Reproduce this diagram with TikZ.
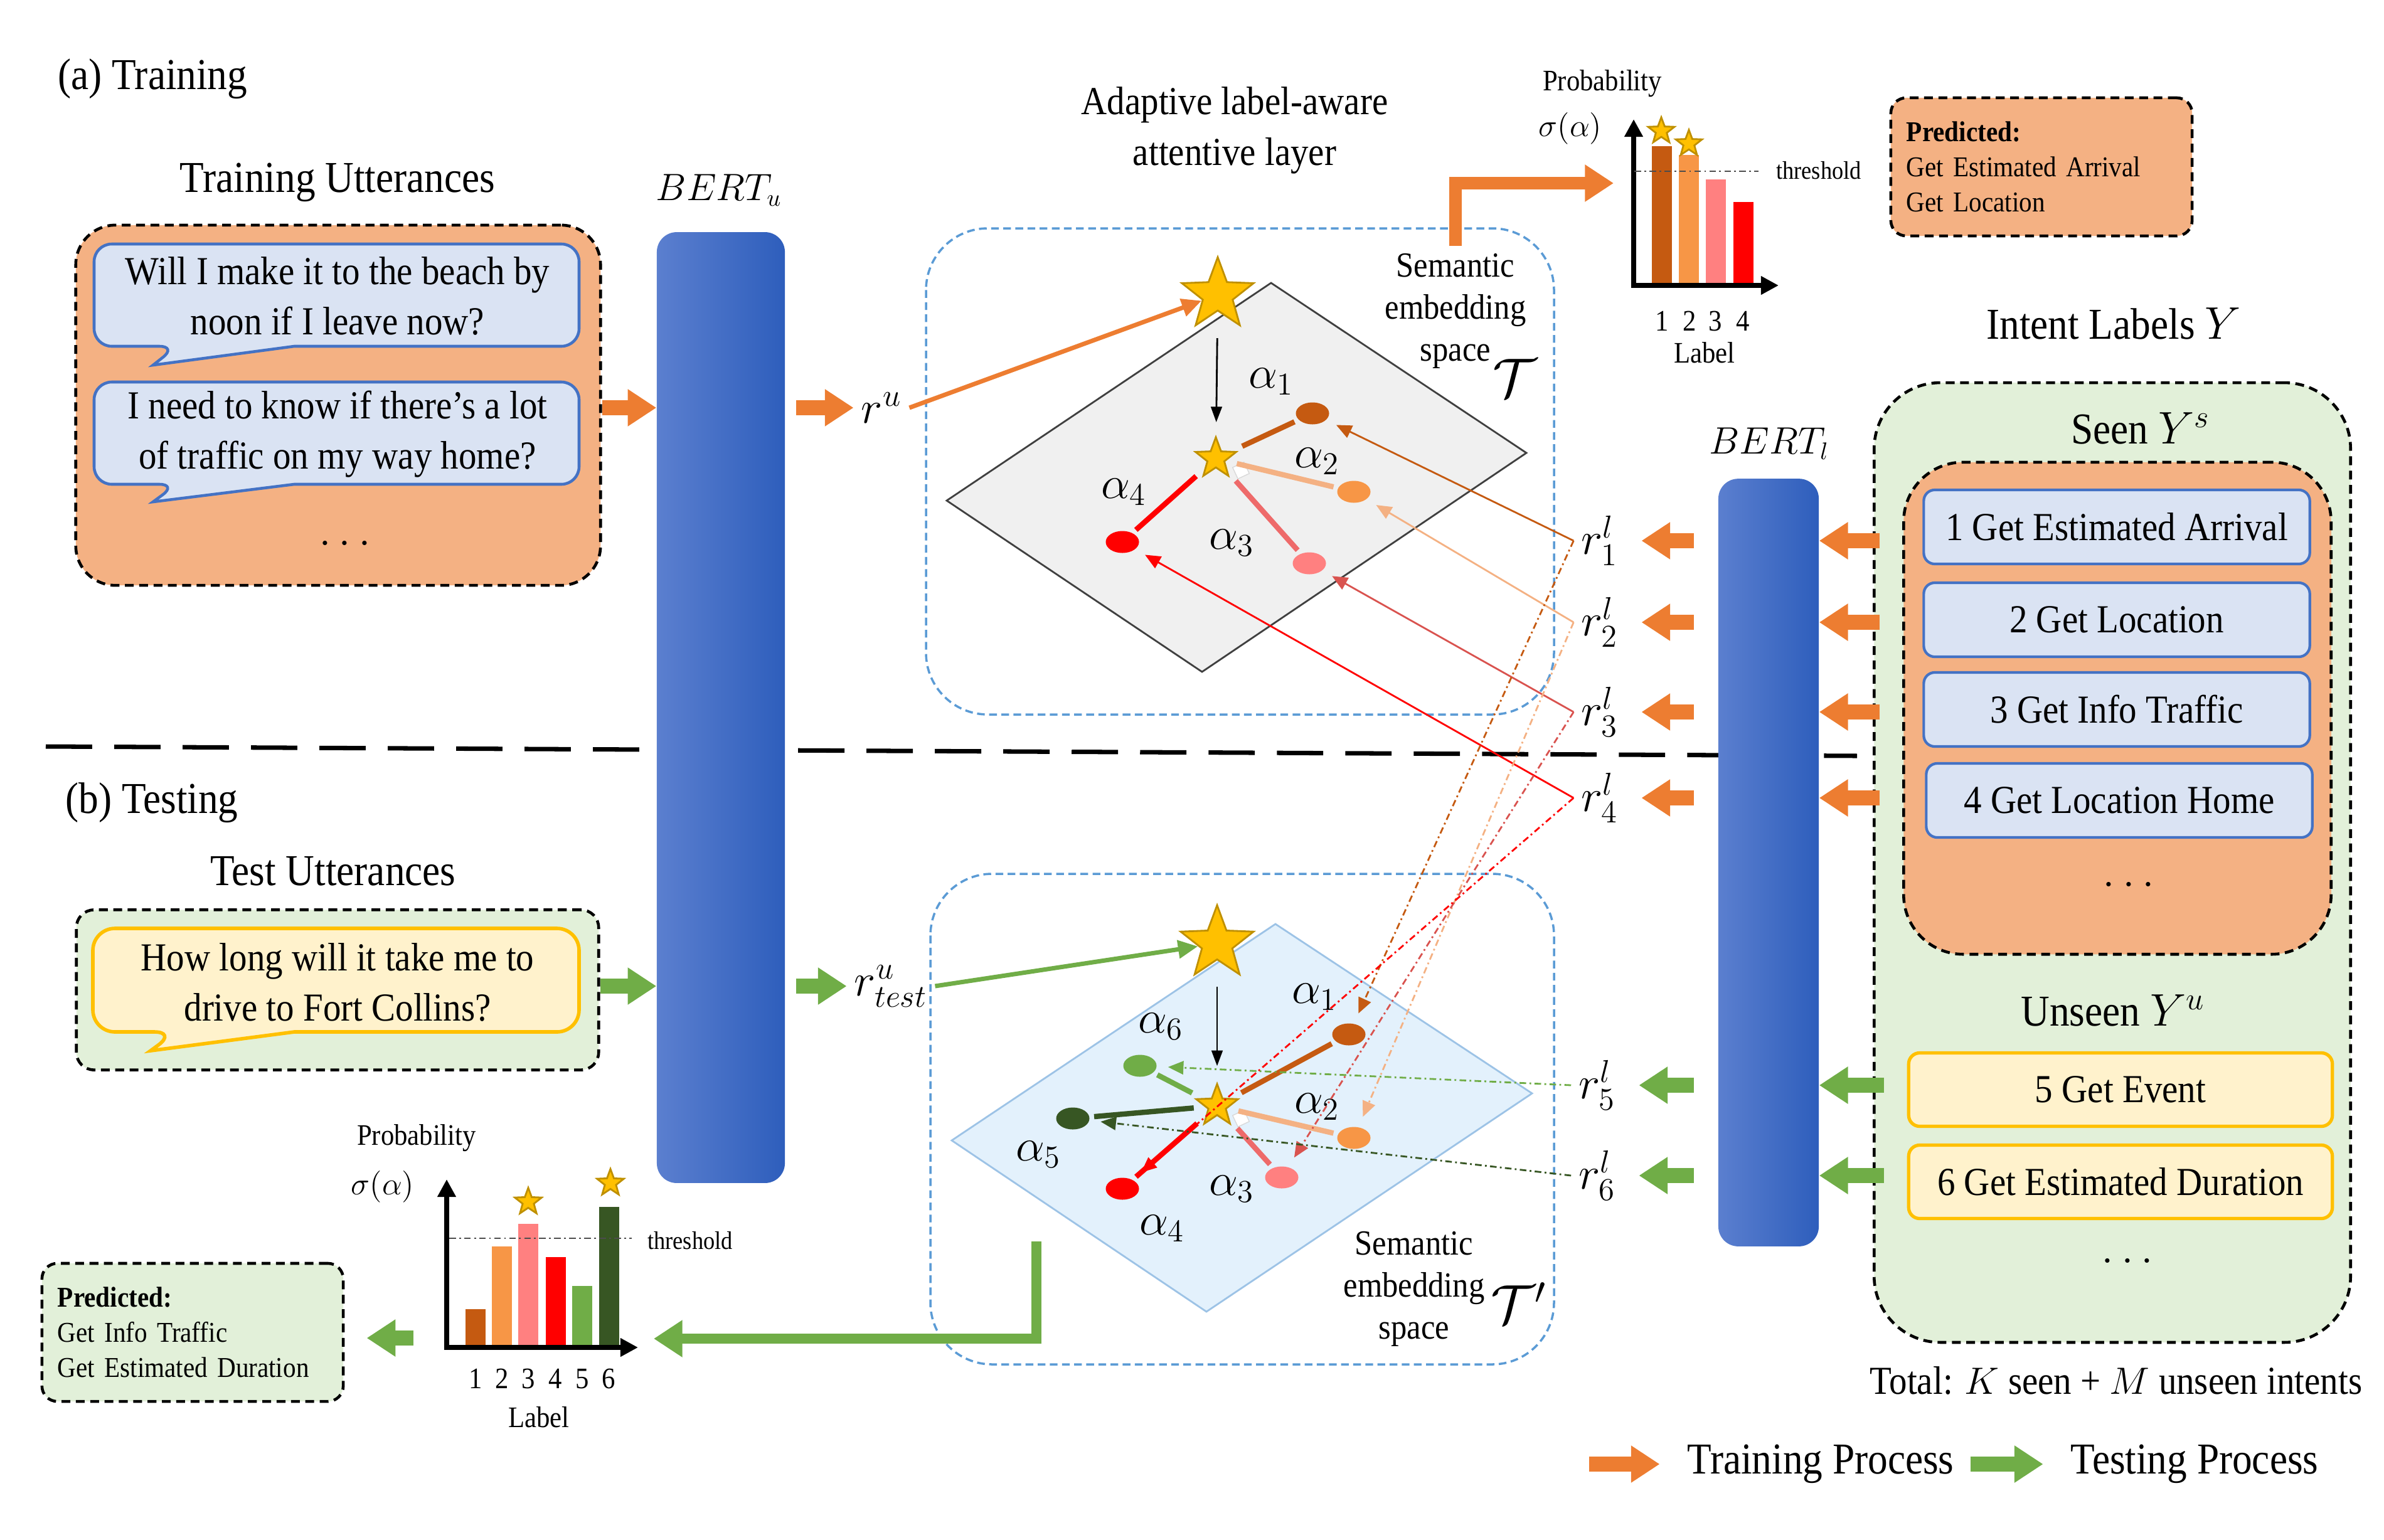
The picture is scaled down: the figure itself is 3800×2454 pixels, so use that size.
\documentclass[tikz,border=0pt]{standalone}
\usepackage{fontspec}
\setmainfont{Liberation Serif}[FakeStretch=0.9]
\usetikzlibrary{arrows.meta,shapes.geometric}
\definecolor{trainorange}{HTML}{ED7D31}
\definecolor{testgreen}{HTML}{70AD47}
\definecolor{boxorange}{HTML}{F4B183}
\definecolor{boxgreen}{HTML}{E2F0D9}
\definecolor{bubblue}{HTML}{DAE3F3}
\definecolor{bubedge}{HTML}{4472C4}
\definecolor{yellowfill}{HTML}{FFF2CC}
\definecolor{yellowedge}{HTML}{FFC000}
\definecolor{spaceblue}{HTML}{5B9BD5}
\definecolor{planegray}{HTML}{F0F0F0}
\definecolor{planeblue}{HTML}{E3F1FC}
\definecolor{planeedge}{HTML}{9DC3E6}
\definecolor{bertlight}{HTML}{5B7FCF}
\definecolor{bertdark}{HTML}{2E5EBC}
\definecolor{gold}{HTML}{FFC000}
\definecolor{golddark}{HTML}{BF9000}
\definecolor{aone}{HTML}{C55A11}
\definecolor{atwo}{HTML}{F79646}
\definecolor{athree}{HTML}{FF8080}
\definecolor{afour}{HTML}{FF0000}
\definecolor{afive}{HTML}{375623}
\definecolor{asix}{HTML}{70AD47}
\definecolor{atwoline}{HTML}{F4B183}
\definecolor{athreeline}{HTML}{EE6A6A}
\definecolor{rthree}{HTML}{D9534F}
\tikzset{
  ttl/.style={font=\fontsize{20}{24}\selectfont},
  txt/.style={font=\fontsize{18}{23}\selectfont},
  semtxt/.style={font=\fontsize{16}{19}\selectfont, align=center},
  chtxt/.style={font=\fontsize{13.5}{16}\selectfont},
  thtxt/.style={font=\fontsize{11.5}{14}\selectfont},
  trarrow/.style={draw=trainorange, line width=7pt, -{Triangle[length=13pt,width=16pt]}},
  tsarrow/.style={draw=testgreen, line width=7pt, -{Triangle[length=13pt,width=16pt]}},
  ptr/.style={draw=#1, line width=2pt, -{Triangle[length=9pt,width=8pt]}},
  dashbox/.style={draw=black, line width=1.3pt, dash pattern=on 4pt off 2.5pt},
  spacebox/.style={draw=spaceblue, line width=1pt, dash pattern=on 3.5pt off 2pt, rounded corners=28pt},
  bert/.style={rounded corners=9pt, left color=bertlight, right color=bertdark},
  labbox/.style={txt, draw=bubedge, fill=bubblue, line width=1.2pt, rounded corners=5pt, minimum width=6.15cm, minimum height=1.18cm},
  unbox/.style={labbox, draw=yellowedge, fill=yellowfill, line width=1.5pt, minimum width=6.75cm, minimum height=1.17cm},
  bubble/.style={line width=1.3pt, draw=bubedge, fill=bubblue},
  ystar/.style={star, star points=5, star point ratio=2.4, fill=gold, draw=golddark, line width=0.8pt, inner sep=0pt},
  adot/.style={ellipse, minimum width=0.53cm, minimum height=0.35cm, inner sep=0pt, fill=#1},
  att/.style={draw=#1, line width=2.4pt, shorten <=5pt, shorten >=2pt},
  rlink/.style={draw=#1, line width=0.8pt, -{Triangle[length=7pt,width=6pt]}, shorten >=5pt},
  rdash/.style={rlink=#1, dash pattern=on 3pt off 1.5pt on 0.8pt off 1.5pt},
  thresh/.style={draw=black!70, line width=0.7pt, dash pattern=on 3pt off 1.5pt on 0.8pt off 1.5pt},
  chartaxis/.style={draw=black, line width=2.5pt, {Triangle[length=8pt,width=8pt]}-{Triangle[length=8pt,width=8pt]}},
  pred/.style={dashbox, rounded corners=7pt, font=\fontsize{13}{16}\selectfont, align=left, text width=4.3cm, minimum width=4.8cm, minimum height=2.2cm},
  glint/.style={draw=black!15, fill=white, rotate=25, minimum size=0.2cm, inner sep=0pt},
}
\begin{document}
\begin{tikzpicture}[x=0.01cm,y=-0.01cm]
\useasboundingbox (0,0) rectangle (3800,2454);

\draw[line width=2pt, dash pattern=on 21pt off 10pt] (73,1190) -- (2960,1205);

\node[ttl, anchor=west] (trainlab) at (80,126) {(a) Training};
\node[ttl, anchor=west] (testlab) at (92,1280) {(b) Testing};
\node[ttl] (trainhead) at (538,291) {Training Utterances};
\node[ttl] (testhead) at (531,1389) {Test Utterances};
\node[txt, align=center] (attn) at (1968,208) {Adaptive label-aware\\attentive layer};

\node[dashbox, fill=boxorange, rounded corners=18pt, minimum width=8.36cm, minimum height=5.74cm] (trainbox) at (539,646) {};
\draw[bubble] (469,552) [rounded corners=8pt] -- (923,552) -- (923,389) -- (150,389) -- (150,552) -- (282,552) [sharp corners] -- (244,582) -- cycle;
\node[txt, align=center] (utt1) at (538,472) {Will I make it to the beach by\\noon if I leave now?};
\draw[bubble] (469,772) [rounded corners=8pt] -- (923,772) -- (923,609) -- (150,609) -- (150,772) -- (282,772) [sharp corners] -- (244,800) -- cycle;
\node[txt, align=center] (utt2) at (538,692) {I need to know if there's a lot\\of traffic on my way home?};
\node[ttl] (tdots) at (550,866) {$\ldots$};

\node[dashbox, fill=boxgreen, rounded corners=8pt, minimum width=8.32cm, minimum height=2.55cm] (testbox) at (538,1578) {};
\draw[bubble, draw=yellowedge, fill=yellowfill, line width=1.6pt] (469,1645) [rounded corners=10pt] -- (923,1645) -- (923,1480) -- (148,1480) -- (148,1645) -- (281,1645) [sharp corners] -- (240,1675) -- cycle;
\node[txt, align=center] (utt3) at (538,1566) {How long will it take me to\\drive to Fort Collins?};

\draw[spacebox] (1476,364) rectangle (2477,1139);
\draw[spacebox] (1483,1393) rectangle (2477,2175);
\draw[fill=planegray, draw=black!75, line width=0.8pt] (2026,451) -- (2433,722) -- (1916,1071) -- (1509,798) -- cycle;
\draw[fill=planeblue, draw=planeedge, line width=0.8pt] (2033,1473) -- (2442,1743) -- (1923,2091) -- (1517,1818) -- cycle;

\node[bert, minimum width=2.04cm, minimum height=15.15cm] (bertu) at (1149,1128) {};
\node[bert, minimum width=1.6cm, minimum height=12.23cm] (bertl) at (2819,1375) {};
\node[font=\fontsize{16}{18}\selectfont] (bertulab) at (1146,303) {$BERT_u$};
\node[font=\fontsize{16}{18}\selectfont] (bertllab) at (2820,707) {$BERT_l$};

\node[ttl] (ru) at (1405,650) {$r^u$};
\node[ttl] (rt) at (1420,1572) {$r^u_{test}$};
\node[ttl] (r1) at (2550,862) {$r^l_1$};
\node[ttl] (r2) at (2550,992) {$r^l_2$};
\node[ttl] (r3) at (2550,1135) {$r^l_3$};
\node[ttl] (r4) at (2550,1272) {$r^l_4$};
\node[ttl] (r5) at (2546,1730) {$r^l_5$};
\node[ttl] (r6) at (2546,1874) {$r^l_6$};

\node[ystar, minimum size=1.2cm] (s1) at (1941,470) {};
\node[ystar, minimum size=0.68cm] (c1) at (1938,731) {};
\node[glint] (w1) at (1978,750) {};
\node[adot=aone] (t1) at (2092,659) {};
\node[adot=atwo] (t2) at (2158,784) {};
\node[adot=athree] (t3) at (2087,898) {};
\node[adot=afour] (t4) at (1789,864) {};
\draw[att=aone] (c1) -- (t1);
\draw[att=atwoline] (c1) -- (t2);
\draw[att=athreeline] (c1) -- (t3);
\draw[att=afour] (c1) -- (t4);
\node[ttl] (a1) at (2026,608) {$\alpha_1$};
\node[ttl] (a2) at (2099,735) {$\alpha_2$};
\node[ttl] (a3) at (1963,865) {$\alpha_3$};
\node[ttl] (a4) at (1791,784) {$\alpha_4$};

\node[ystar, minimum size=1.22cm] (s2) at (1940,1504) {};
\node[ystar, minimum size=0.7cm] (c2) at (1940,1763) {};
\node[glint] (w2) at (1978,1783) {};
\node[adot=aone] (b1) at (2150,1649) {};
\node[adot=atwo] (b2) at (2158,1814) {};
\node[adot=athree] (b3) at (2043,1877) {};
\node[adot=afour] (b4) at (1789,1895) {};
\node[adot=afive] (b5) at (1710,1783) {};
\node[adot=asix] (b6) at (1817,1699) {};
\draw[att=aone] (c2) -- (b1);
\draw[att=atwoline] (c2) -- (b2);
\draw[att=athreeline] (c2) -- (b3);
\draw[att=afour] (c2) -- (b4);
\draw[att=afive] (c2) -- (b5);
\draw[att=asix] (c2) -- (b6);
\node[ttl] (ba1) at (2095,1589) {$\alpha_1$};
\node[ttl] (ba2) at (2099,1764) {$\alpha_2$};
\node[ttl] (ba3) at (1963,1895) {$\alpha_3$};
\node[ttl] (ba4) at (1852,1958) {$\alpha_4$};
\node[ttl] (ba5) at (1655,1840) {$\alpha_5$};
\node[ttl] (ba6) at (1850,1636) {$\alpha_6$};

\draw[rlink=aone] (r1.west) -- (t1);
\draw[rlink=atwoline] (r2.west) -- (t2);
\draw[rlink=rthree] (r3.west) -- (t3);
\draw[rlink=afour] (r4.west) -- (t4);
\draw[rdash=aone] (r1.west) -- (b1);
\draw[rdash=atwoline] (r2.west) -- (b2);
\draw[rdash=rthree] (r3.west) -- (b3);
\draw[rdash=afour] (r4.west) -- (b4);
\draw[rdash=asix] (r5.west) -- (b6);
\draw[rdash=afive] (r6.west) -- (b5);

\draw[black, line width=0.8pt, -{Triangle[length=7pt,width=5pt]}, shorten <=12pt, shorten >=6pt] (s1) -- (c1);
\draw[black, line width=0.8pt, -{Triangle[length=7pt,width=5pt]}, shorten <=12pt, shorten >=7pt] (s2) -- (c2);

\node[semtxt] (sem1) at (2320,496) {Semantic\\embedding\\space};
\node[font=\fontsize{24}{24}\selectfont] (tau1) at (2414,603) {$\mathcal{T}$};
\node[semtxt] (sem2) at (2254,2055) {Semantic\\embedding\\space};
\node[font=\fontsize{24}{24}\selectfont] (tau2) at (2421,2077) {$\mathcal{T}'$};

\draw[trarrow] (trainbox.east |- ru) -- (ru -| bertu.west);
\draw[trarrow, shorten <=5pt] (ru -| bertu.east) -- (ru.west);
\draw[ptr=trainorange] (ru.east) -- (s1);
\draw[tsarrow] (testbox.east |- rt) -- (rt -| bertu.west);
\draw[tsarrow, shorten <=5pt] (rt -| bertu.east) -- (rt.west);
\draw[ptr=testgreen] (rt.east) -- (s2);

\coordinate (chin1) at (2572,292);
\draw[trarrow, line width=5.5pt] (sem1.north) |- (chin1);
\foreach \xa/\ya/\col in {2633/233/aone,2676/247/atwo,2719/286/athree,2763/322/afour}
  \fill[\col] (\xa,\ya) rectangle (\xa+32,452);
\draw[chartaxis] (2604,190) |- (2835,455);
\draw[thresh] (2605,273) -- (2803,273);
\node[ystar, minimum size=0.44cm] (p1) at (2648,209) {};
\node[ystar, minimum size=0.44cm] (p2) at (2692,229) {};
\node[thtxt] (th1) at (2899,272) {threshold};
\foreach \i/\xa in {1/2649,2/2693,3/2734,4/2778}
  \node[chtxt] (tn\i) at (\xa,512) {\i};
\node[chtxt] (lab1) at (2717,562) {Label};
\node[chtxt] (prob1) at (2554,133) {Probability};
\node[chtxt] (sig1) at (2503,205) {$\sigma(\alpha)$};
\node[pred, fill=boxorange] (pred1) at (3254,266) {\textbf{Predicted:}\\Get Estimated Arrival\\Get Location};

\coordinate (sp2out) at (1652,1979);
\coordinate (chin2) at (1042,2134);
\draw[tsarrow, line width=4.5pt] (sp2out) |- (chin2);
\foreach \xa/\ya/\col in {742/2087/aone,784/1987/atwo,826/1951/athree,870/2004/afour,912/2050/asix,955/1924/afive}
  \fill[\col] (\xa,\ya) rectangle (\xa+32,2145);
\draw[chartaxis] (712,1880) |- (1017,2148);
\draw[thresh] (716,1974) -- (1007,1974);
\node[ystar, minimum size=0.45cm] (p3) at (842,1916) {};
\node[ystar, minimum size=0.45cm] (p4) at (973,1886) {};
\node[thtxt] (th2) at (1100,1978) {threshold};
\foreach \i/\xa in {1/758,2/800,3/842,4/885,5/928,6/970}
  \node[chtxt] (bn\i) at (\xa,2198) {\i};
\node[chtxt] (lab2) at (859,2259) {Label};
\node[chtxt] (prob2) at (664,1814) {Probability};
\node[chtxt] (sig2) at (610,1892) {$\sigma(\alpha)$};
\node[pred, fill=boxgreen] (pred2) at (307,2124) {\textbf{Predicted:}\\Get Info Traffic\\Get Estimated Duration};
\coordinate (chout2) at (659,2133);
\draw[tsarrow, shorten >=10pt] (chout2) -- (pred2.east |- chout2);

\node[ttl] (intenthead) at (3369,516) {Intent Labels $Y$};
\node[dashbox, fill=boxgreen, rounded corners=30pt, minimum width=7.59cm, minimum height=15.29cm] (intent) at (3367,1375) {};
\node[dashbox, fill=boxorange, rounded corners=27pt, minimum width=6.81cm, minimum height=7.84cm] (seen) at (3375,1129) {};
\node[ttl] (seenhead) at (3412,683) {Seen $Y^s$};
\node[ttl] (unseenhead) at (3368,1611) {Unseen $Y^u$};
\node[labbox] (l1) at (3374,840) {1 Get Estimated Arrival};
\node[labbox] (l2) at (3374,988) {2 Get Location};
\node[labbox] (l3) at (3374,1131) {3 Get Info Traffic};
\node[labbox] (l4) at (3378,1276) {4 Get Location Home};
\node[ttl] (sdots) at (3393,1410) {$\ldots$};
\node[unbox] (l5) at (3380,1737) {5 Get Event};
\node[unbox] (l6) at (3380,1884) {6 Get Estimated Duration};
\node[ttl] (udots) at (3391,2010) {$\ldots$};
\node[txt] (total) at (3373,2201) {Total: $K$ seen + $M$ unseen intents};

\foreach \r in {r1,r2,r3,r4} {
  \draw[trarrow, shorten <=-3pt] (\r -| intent.west) -- (\r -| bertl.east);
  \draw[trarrow, shorten <=11pt, shorten >=7pt] (\r -| bertl.west) -- (\r.east);
}
\foreach \r in {r5,r6} {
  \draw[tsarrow, shorten <=-5pt] (\r -| intent.west) -- (\r -| bertl.east);
  \draw[tsarrow, shorten <=11pt, shorten >=7pt] (\r -| bertl.west) -- (\r.east);
}

\node[ttl] (trproc) at (2902,2334) {Training Process};
\node[ttl] (tsproc) at (3498,2334) {Testing Process};
\draw[trarrow] ([xshift=-41pt]trproc.west) -- ([xshift=-9pt]trproc.west);
\draw[tsarrow] ([xshift=-42pt]tsproc.west) -- ([xshift=-9pt]tsproc.west);
\end{tikzpicture}
\end{document}
